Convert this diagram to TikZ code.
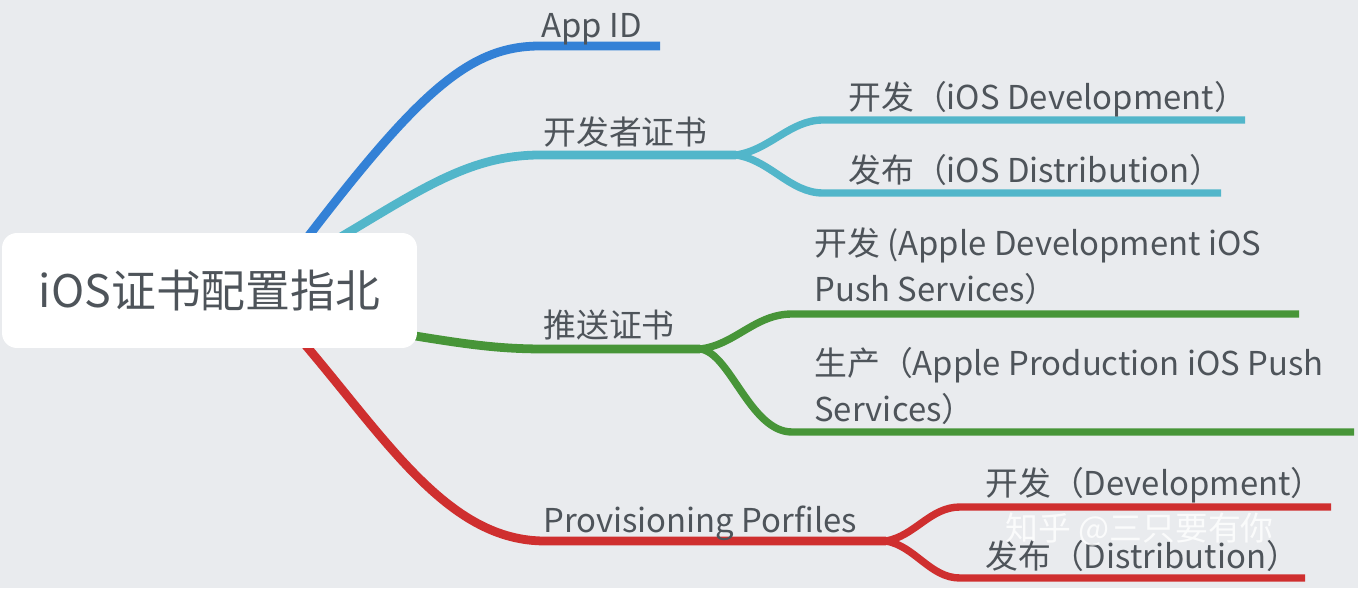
\documentclass[tikz,border=0pt]{standalone}
\usepackage{fontspec}
\setmainfont{Noto Sans CJK SC}
\usetikzlibrary{calc,backgrounds}
\definecolor{bgcol}{HTML}{E9EBEE}
\definecolor{txtcol}{HTML}{4E545A}
\definecolor{appblue}{HTML}{3381D6}
\definecolor{certcyan}{HTML}{52B6CA}
\definecolor{pushgreen}{HTML}{479538}
\definecolor{profred}{HTML}{CF2F2F}

\begin{document}
\begin{tikzpicture}[x=0.02cm, y=-0.02cm, line cap=round,
  branch/.style={line width=5pt},
  twig/.style={line width=4.2pt},
  lbl/.style={anchor=base west, inner sep=0pt, text=txtcol, align=left,
    font=\fontsize{18.7}{26}\selectfont},
  rootbox/.style={fill=white, rounded corners=8.5pt, minimum width=8.3cm,
    minimum height=2.3cm, inner sep=0pt, text=txtcol, font=\fontsize{25.5}{30}\selectfont}]
\useasboundingbox (0,0) rectangle (1358,588);
% Wurzel
\node[rootbox] (root) at (209.5,290.5) {iOS证书配置指北};
% Beschriftungen
\node[lbl] (appLbl) at (541,38) {App ID};
\node[lbl] (certLbl) at (543,144) {开发者证书};
\node[lbl] (certDev) at (848,110) {开发（iOS Development）};
\node[lbl] (certDist) at (848,182) {发布（iOS Distribution）};
\node[lbl] (pushLbl) at (543,337) {推送证书};
\node[lbl] (pushDev) at (814,301) {开发 (Apple Development iOS\\Push Services）};
\node[lbl] (pushProd) at (814,421) {生产（Apple Production iOS Push\\Services）};
\node[lbl] (provLbl) at (543,532) {Provisioning Porfiles};
\node[lbl] (provDev) at (985,495) {开发（Development）};
\node[lbl] (provDist) at (985,568) {发布（Distribution）};
% Knickpunkte
\coordinate (appEnd) at (660,46);
\coordinate (certFork) at (736,155);
\coordinate (certDevEnd) at (1245,120);
\coordinate (certDistEnd) at (1221,193);
\coordinate (pushFork) at (700,349);
\coordinate (pushDevEnd) at (1299,314);
\coordinate (pushProdEnd) at (1354,432);
\coordinate (provFork) at (886,541);
\coordinate (provDevEnd) at (1331,507);
\coordinate (provDistEnd) at (1305,578);
\begin{pgfonlayer}{background}
\fill[bgcol] (0,0) rectangle (1358,588);
% App ID
\draw[branch, appblue] ($(root.north west)+(301,11)$) .. controls (420,90) and (470,46) .. (540,46) -- (appEnd);
% Zertifikate
\draw[branch, certcyan] ($(root.north west)+(338,5)$) .. controls (420,190) and (470,155) .. (540,155) -- (certFork);
\draw[twig, certcyan] (certFork) .. controls (770,150) and (790,120) .. (823,120) -- (certDevEnd);
\draw[twig, certcyan] (certFork) .. controls (770,160) and (790,193) .. (823,193) -- (certDistEnd);
% Push
\draw[branch, pushgreen] ($(root.south east)+(-12,-14)$) .. controls (470,345) and (500,349) .. (545,349) -- (pushFork);
\draw[twig, pushgreen] (pushFork) .. controls (735,345) and (755,314) .. (792,314) -- (pushDevEnd);
\draw[twig, pushgreen] (pushFork) .. controls (730,352) and (750,432) .. (792,432) -- (pushProdEnd);
% Profile
\draw[branch, profred] ($(root.south west)+(304,-3)$) .. controls (390,445) and (450,541) .. (545,541) -- (provFork);
\draw[twig, profred] (provFork) .. controls (915,536) and (930,507) .. (960,507) -- (provDevEnd);
\draw[twig, profred] (provFork) .. controls (915,546) and (930,578) .. (960,578) -- (provDistEnd);
\end{pgfonlayer}
% Wasserzeichen
\node[lbl, text=white, opacity=0.8] (wmark) at (1005,540) {知乎 @三只要有你};
\end{tikzpicture}
\end{document}
